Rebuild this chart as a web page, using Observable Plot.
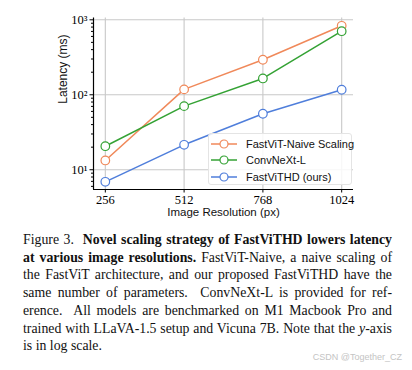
<!DOCTYPE html>
<html>
<head>
<meta charset="utf-8">
<script src="https://cdn.jsdelivr.net/npm/d3@7"></script>
<script src="https://cdn.jsdelivr.net/npm/@observablehq/plot@0.6"></script>
<style>
  html, body { margin: 0; padding: 0; background: white; }
  #wrap { position: relative; width: 412px; height: 370px; overflow: hidden; }
  #chart { position: absolute; left: 0; top: 0; }
  #legend { position: absolute; left: 208px; top: 133px; width: 144px; height: 52px;
    background: rgba(255,255,255,0.85); border: 1px solid #e4e4e4; border-radius: 3px; box-sizing: border-box;
    padding-top: 2px; font-family: "Liberation Sans", Arial, sans-serif; font-size: 11px; color: #111; }
  .lrow { height: 16.3px; display: flex; align-items: center; white-space: nowrap; }
  .lrow svg { margin-left: 2px; margin-right: 8px; flex: none; }
  #caption { position: absolute; left: 23px; top: 231px; width: 369px;
    font-family: "Liberation Serif", "Times New Roman", serif; font-size: 13.8px; line-height: 17.7px; color: #111; }
  #caption div { white-space: nowrap; text-align: justify; text-align-last: justify; }
  #caption div.last { text-align-last: left; }
  #wm { position: absolute; right: 10px; top: 352px; font-family: "Liberation Sans", Arial, sans-serif;
    font-size: 9px; color: #c4c4c4; }
</style>
</head>
<body>
<div id="wrap">
  <div id="chart"></div>
  <div id="legend"></div>
  <div id="caption">
    <div>Figure 3.&nbsp; <b>Novel scaling strategy of FastViTHD lowers latency</b></div>
    <div><b>at various image resolutions.</b> FastViT-Naive, a naive scaling of</div>
    <div>the FastViT architecture, and our proposed FastViTHD have the</div>
    <div>same number of parameters.&nbsp; ConvNeXt-L is provided for ref-</div>
    <div>erence.&nbsp; All models are benchmarked on M1 Macbook Pro and</div>
    <div>trained with LLaVA-1.5 setup and Vicuna 7B. Note that the <i>y</i>-axis</div>
    <div class="last">is in log scale.</div>
  </div>
  <div id="wm">CSDN @Together_CZ</div>
</div>
<script>
const series = ["FastViT-Naive Scaling", "ConvNeXt-L", "FastViTHD (ours)"];
const resolutions = [256, 512, 768, 1024];
const naiveLatency = [13.3, 118, 293, 832];
const convnextLatency = [20.6, 70.5, 165, 705];
const fastvithdLatency = [6.9, 21.5, 55.8, 116.6];
const colors = ["#f0895a", "#34a234", "#4f7edb"];
const yTicks = [10, 100, 1000];
const yTickLabels = ["10\u00b9", "10\u00b2", "10\u00b3"];
const xDomain = [217.6, 1062.4];
const yDomain = [5.45, 1057];

const allSeries = [naiveLatency, convnextLatency, fastvithdLatency];
const rows = series.flatMap((s, si) => resolutions.map((r, i) => ({series: s, resolution: r, latency: allSeries[si][i]})));

const minorTicks = [];
for (const p of [1, 10, 100]) for (let m = 2; m <= 9; m++) {
  const v = m * p;
  if (v >= yDomain[0] && v <= yDomain[1]) minorTicks.push(v);
}

const chart = Plot.plot({
  width: 412, height: 228,
  marginLeft: 93, marginRight: 59, marginTop: 17.5, marginBottom: 39,
  style: {fontFamily: "Liberation Serif, serif", fontSize: "12px", color: "black", background: "white"},
  x: {type: "linear", domain: xDomain},
  y: {type: "log", domain: yDomain},
  color: {domain: series, range: colors},
  marks: [
    Plot.ruleX(resolutions, {stroke: "#c8c8c8", strokeWidth: 1.1}),
    Plot.ruleY(yTicks, {stroke: "#c8c8c8", strokeWidth: 1.1}),
    Plot.axisX({ticks: resolutions, tickSize: 3.5, tickPadding: 2, tickFormat: d => String(d), label: null, fontSize: 12.5}),
    Plot.axisY({ticks: yTicks, tickSize: 3.5, tickPadding: 2.5, tickFormat: d => yTickLabels[yTicks.indexOf(d)], label: null, fontSize: 12.5}),
    Plot.axisY({ticks: minorTicks, tickSize: 2, tickFormat: () => "", label: null}),
    Plot.ruleX([xDomain[0]], {stroke: "black", strokeWidth: 1.2}),
    Plot.ruleY([yDomain[0]], {stroke: "black", strokeWidth: 1.2}),
    Plot.line(rows, {x: "resolution", y: "latency", z: "series", stroke: "series", strokeWidth: 1.5}),
    Plot.dot(rows, {x: "resolution", y: "latency", stroke: "series", fill: "white", r: 4.3, strokeWidth: 1.2}),
    Plot.text(["Latency (ms)"], {frameAnchor: "left", rotate: -90, dx: -30, fontFamily: "Liberation Sans, Arial, sans-serif", fontSize: 12, fill: "#111"}),
    Plot.text(["Image Resolution (px)"], {frameAnchor: "bottom", dy: 26, fontFamily: "Liberation Sans, Arial, sans-serif", fontSize: 11.5, fill: "#111"})
  ]
});
document.getElementById("chart").appendChild(chart);

const legend = document.getElementById("legend");
series.forEach((s, i) => {
  const row = document.createElement("div");
  row.className = "lrow";
  row.innerHTML = `<svg width="27" height="10"><line x1="0" y1="5" x2="26" y2="5" stroke="${colors[i]}" stroke-width="1.5"/><circle cx="13" cy="5" r="4" fill="white" stroke="${colors[i]}" stroke-width="1.2"/></svg><span>${s}</span>`;
  legend.appendChild(row);
});
</script>
</body>
</html>
